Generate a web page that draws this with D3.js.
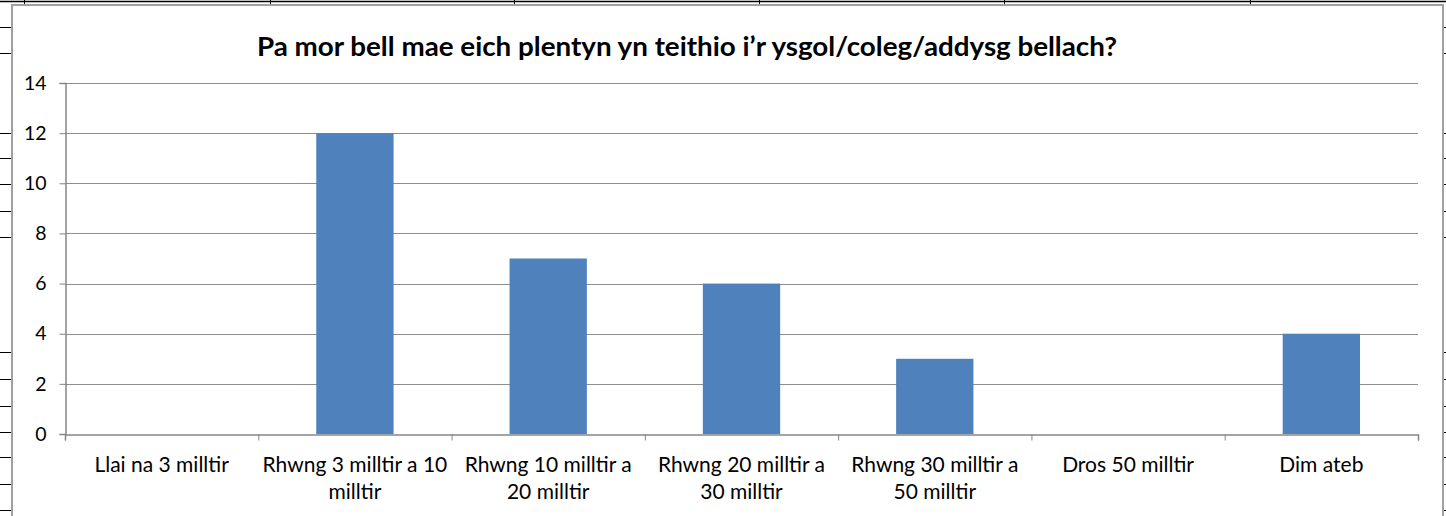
<!DOCTYPE html>
<html>
<head>
<meta charset="utf-8">
<script src="https://cdn.jsdelivr.net/npm/d3@7"></script>
<style>
  body { margin: 0; background: #fff; }
  svg { display: block; }
  .tick text { font-family: Lato, "Open Sans", sans-serif; fill: #000; }
</style>
</head>
<body>
<svg id="chart" width="1446" height="516"></svg>
<script>
(function() {
    var title = 'Pa mor bell mae eich plentyn yn teithio i\u2019r ysgol/coleg/addysg bellach?';
    var categories = [
        ['Llai na 3 milltir'],
        ['Rhwng 3 milltir a 10', 'milltir'],
        ['Rhwng 10 milltir a', '20 milltir'],
        ['Rhwng 20 milltir a', '30 milltir'],
        ['Rhwng 30 milltir a', '50 milltir'],
        ['Dros 50 milltir'],
        ['Dim ateb']
    ];
    var values = [0, 12, 7, 6, 3, 0, 4];
    var yTicks = [0, 2, 4, 6, 8, 10, 12, 14];

    var svg = d3.select('#chart');

    // spreadsheet cells behind the chart
    var sheetRows = [27, 53, 133, 158, 184, 211, 237, 352, 379, 406, 432, 457, 484, 510];
    var sheetCols = [24, 270, 514, 759, 1004, 1250];
    svg.append('line')
        .attr('x1', 0).attr('x2', 1446).attr('y1', 1.5).attr('y2', 1.5)
        .attr('stroke', '#000').attr('stroke-width', 1.5);
    sheetCols.forEach(function(x) {
        svg.append('line').attr('x1', x + 0.5).attr('x2', x + 0.5)
            .attr('y1', 0).attr('y2', 5).attr('stroke', '#000');
    });
    sheetRows.forEach(function(y) {
        svg.append('line').attr('x1', 0).attr('x2', 11).attr('y1', y + 0.5).attr('y2', y + 0.5)
            .attr('stroke', '#000');
        svg.append('line').attr('x1', 1444).attr('x2', 1446).attr('y1', y + 0.5).attr('y2', y + 0.5)
            .attr('stroke', '#000');
    });

    // chart area
    svg.append('rect')
        .attr('x', 12).attr('y', 5)
        .attr('width', 1431).attr('height', 530)
        .attr('fill', '#fff')
        .attr('stroke', '#a0a0a0')
        .attr('stroke-width', 2);

    svg.append('text')
        .attr('x', 257).attr('y', 56)
        .attr('font-family', 'Lato, "Open Sans", sans-serif')
        .attr('font-weight', 'bold')
        .attr('font-size', 27)
        .attr('textLength', 860)
        .attr('lengthAdjust', 'spacingAndGlyphs')
        .text(title);

    var left = 65, right = 1418, top = 83, bottom = 434;

    var x = d3.scaleBand()
        .domain(d3.range(categories.length))
        .range([left, right])
        .paddingInner(0.6)
        .paddingOuter(0.3);

    var xEdges = d3.scaleLinear()
        .domain([0, categories.length])
        .range([left, right]);

    var y = d3.scaleLinear()
        .domain([0, 14])
        .range([bottom, top]);

    // gridlines
    svg.append('g')
        .selectAll('line')
        .data(yTicks.slice(1))
        .join('line')
        .attr('x1', left).attr('x2', right)
        .attr('y1', function(d) { return Math.round(y(d)) + 0.5; })
        .attr('y2', function(d) { return Math.round(y(d)) + 0.5; })
        .attr('stroke', '#8e8e8e');

    // bars
    svg.append('g')
        .selectAll('rect')
        .data(values)
        .join('rect')
        .attr('x', function(d, i) { return x(i); })
        .attr('y', function(d) { return y(d); })
        .attr('width', x.bandwidth())
        .attr('height', function(d) { return bottom - y(d); })
        .attr('fill', '#4f81bd');

    // y axis
    var yAxis = svg.append('g')
        .attr('transform', 'translate(' + (left + 0.5) + ',0)')
        .call(d3.axisLeft(y).tickValues(yTicks).tickSize(6).tickPadding(13));
    yAxis.select('.domain').attr('stroke', '#868686').attr('stroke-width', 1.5);
    yAxis.selectAll('.tick line').attr('stroke', '#868686');
    yAxis.selectAll('.tick text').attr('font-size', 19.5);

    // x axis with ticks at category edges
    var xAxis = svg.append('g')
        .attr('transform', 'translate(0,' + (bottom + 0.5) + ')')
        .call(d3.axisBottom(xEdges).tickValues(d3.range(categories.length + 1)).tickSize(6).tickFormat(''));
    xAxis.select('.domain').attr('stroke', '#868686').attr('stroke-width', 1.5);
    xAxis.selectAll('.tick line').attr('stroke', '#868686');

    var labels = svg.append('g')
        .selectAll('text')
        .data(categories)
        .join('text')
        .attr('x', function(d, i) { return x(i) + x.bandwidth() / 2; })
        .attr('y', 472)
        .attr('text-anchor', 'middle')
        .attr('font-family', 'Lato, "Open Sans", sans-serif')
        .attr('font-size', 21)
        .attr('fill', '#000');
    labels.selectAll('tspan')
        .data(function(d) { return d; })
        .join('tspan')
        .attr('x', function() { return d3.select(this.parentNode).attr('x'); })
        .attr('dy', function(d, i) { return i === 0 ? 0 : 27; })
        .text(function(d) { return d; });
})();
</script>
</body>
</html>
